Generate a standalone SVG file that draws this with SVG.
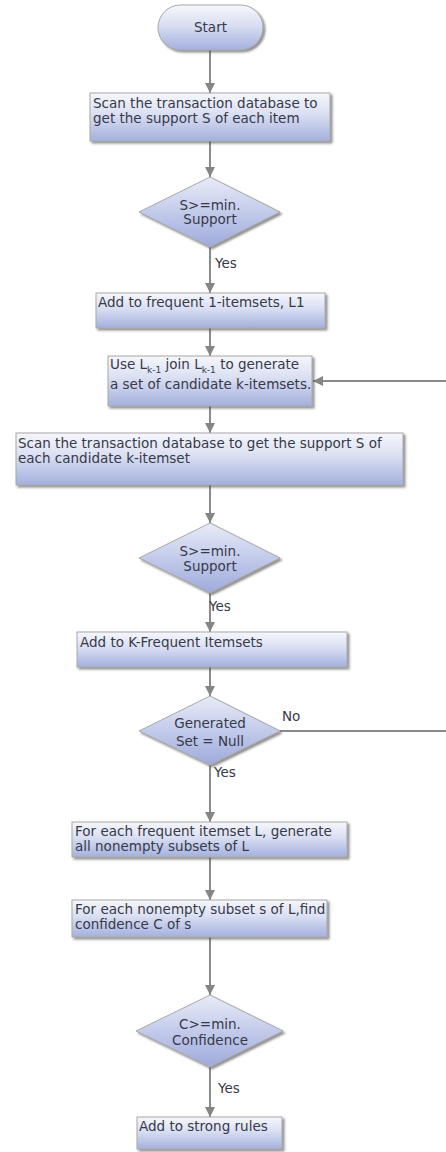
<svg xmlns="http://www.w3.org/2000/svg" width="446" height="1152" viewBox="0 0 446 1152">
  <defs>
    <linearGradient id="boxFill" x1="0" y1="0" x2="0" y2="1">
      <stop offset="0" stop-color="#f6f7fc"/>
      <stop offset="0.45" stop-color="#d9def2"/>
      <stop offset="1" stop-color="#a4b0de"/>
    </linearGradient>
    <linearGradient id="decFill" x1="0" y1="0" x2="0" y2="1">
      <stop offset="0" stop-color="#e8ebf7"/>
      <stop offset="0.5" stop-color="#c3cbeb"/>
      <stop offset="1" stop-color="#9eaadb"/>
    </linearGradient>
    <filter id="shadow" x="-10%" y="-10%" width="130%" height="140%">
      <feDropShadow dx="2" dy="2" stdDeviation="1.2" flood-color="#444" flood-opacity="0.6"/>
    </filter>
    <marker id="arrow" viewBox="0 0 10 10" refX="10" refY="5" markerWidth="5" markerHeight="5" orient="auto" markerUnits="strokeWidth">
      <path d="M0,0 L10,5 L0,10 z" fill="#858585"/>
    </marker>
  </defs>
  <style>
    .box { fill: url(#boxFill); stroke: #a8a8a8; stroke-width: 1; filter: url(#shadow); }
    .dec { fill: url(#decFill); stroke: #a8a8a8; stroke-width: 1; filter: url(#shadow); }
    .t { font-family: "DejaVu Sans", Verdana, sans-serif; font-size: 13.5px; fill: #363a48; }
    .c { text-anchor: middle; }
    .sub { font-size: 9px; }
    .edge { stroke: #8a8a8a; stroke-width: 2; fill: none; marker-end: url(#arrow); }
    .line { stroke: #8a8a8a; stroke-width: 2; fill: none; }
  </style>

  <!-- connectors -->
  <g id="connectors">
    <line class="edge" x1="210" y1="50" x2="210" y2="93"/>
    <line class="edge" x1="210" y1="141" x2="210" y2="177"/>
    <line class="edge" x1="210" y1="247" x2="210" y2="293"/>
    <line class="edge" x1="210" y1="328" x2="210" y2="356"/>
    <line class="edge" x1="210" y1="406" x2="210" y2="433"/>
    <line class="edge" x1="210" y1="485" x2="210" y2="523"/>
    <line class="edge" x1="210" y1="593" x2="210" y2="632"/>
    <line class="edge" x1="210" y1="667" x2="210" y2="696"/>
    <line class="edge" x1="210" y1="765" x2="210" y2="822"/>
    <line class="edge" x1="210" y1="857" x2="210" y2="900"/>
    <line class="edge" x1="210" y1="937" x2="210" y2="995"/>
    <line class="edge" x1="210" y1="1067" x2="210" y2="1117"/>
    <!-- loop back from the null test to the join step -->
    <line class="line" x1="280" y1="731" x2="446" y2="731"/>
    <line class="edge" x1="446" y1="381" x2="313" y2="381"/>
    <text class="t" x="215" y="268">Yes</text>
    <text class="t" x="209" y="611">Yes</text>
    <text class="t" x="214" y="777">Yes</text>
    <text class="t" x="282" y="721">No</text>
    <text class="t" x="218" y="1093">Yes</text>
  </g>

  <g id="start">
    <rect class="box" x="158" y="5" width="105" height="45" rx="22.5" ry="22.5"/>
    <text class="t c" x="210.5" y="32">Start</text>
  </g>

  <g id="scan-items">
    <rect class="box" x="90" y="93" width="240" height="48"/>
    <text class="t" x="93" y="108">Scan the transaction database to</text>
    <text class="t" x="93" y="123">get the support S of each item</text>
  </g>

  <g id="min-support-1">
    <polygon class="dec" points="210,177 280,212 210,247 139,212"/>
    <text class="t c" x="210" y="210">S&gt;=min.</text>
    <text class="t c" x="210" y="224">Support</text>
  </g>

  <g id="frequent-1">
    <rect class="box" x="96" y="293" width="229" height="35"/>
    <text class="t" x="98" y="307">Add to frequent 1-itemsets, L1</text>
  </g>

  <g id="join">
    <rect class="box" x="108" y="356" width="204" height="50"/>
    <text class="t" x="110" y="369">Use L<tspan class="sub" dy="3.5">k-1</tspan><tspan dy="-3.5"> join L</tspan><tspan class="sub" dy="3.5">k-1</tspan><tspan dy="-3.5"> to generate</tspan></text>
    <text class="t" x="110" y="389">a set of candidate k-itemsets.</text>
  </g>

  <g id="scan-candidates">
    <rect class="box" x="16" y="433" width="387" height="52"/>
    <text class="t" x="18" y="448">Scan the transaction database to get the support S of</text>
    <text class="t" x="18" y="463">each candidate k-itemset</text>
  </g>

  <g id="min-support-2">
    <polygon class="dec" points="210,523 280,558 210,593 139,558"/>
    <text class="t c" x="210" y="556">S&gt;=min.</text>
    <text class="t c" x="210" y="571">Support</text>
  </g>

  <g id="frequent-k">
    <rect class="box" x="77" y="632" width="270" height="35"/>
    <text class="t" x="80" y="647">Add to K-Frequent Itemsets</text>
  </g>

  <g id="null-test">
    <polygon class="dec" points="210,696 280,731 210,765 139,731"/>
    <text class="t c" x="210" y="728">Generated</text>
    <text class="t c" x="210" y="746">Set = Null</text>
  </g>

  <g id="subsets">
    <rect class="box" x="72" y="822" width="275" height="35"/>
    <text class="t" x="75" y="836">For each frequent itemset L, generate</text>
    <text class="t" x="75" y="851">all nonempty subsets of L</text>
  </g>

  <g id="confidence">
    <rect class="box" x="72" y="900" width="255" height="37"/>
    <text class="t" x="75" y="914">For each nonempty subset s of L,find</text>
    <text class="t" x="75" y="929">confidence C of s</text>
  </g>

  <g id="min-confidence">
    <polygon class="dec" points="210,995 283,1031 210,1067 136,1031"/>
    <text class="t c" x="210" y="1029">C&gt;=min.</text>
    <text class="t c" x="210" y="1045">Confidence</text>
  </g>

  <g id="strong-rules">
    <rect class="box" x="137" y="1117" width="145" height="32"/>
    <text class="t" x="139" y="1131">Add to strong rules</text>
  </g>
</svg>
